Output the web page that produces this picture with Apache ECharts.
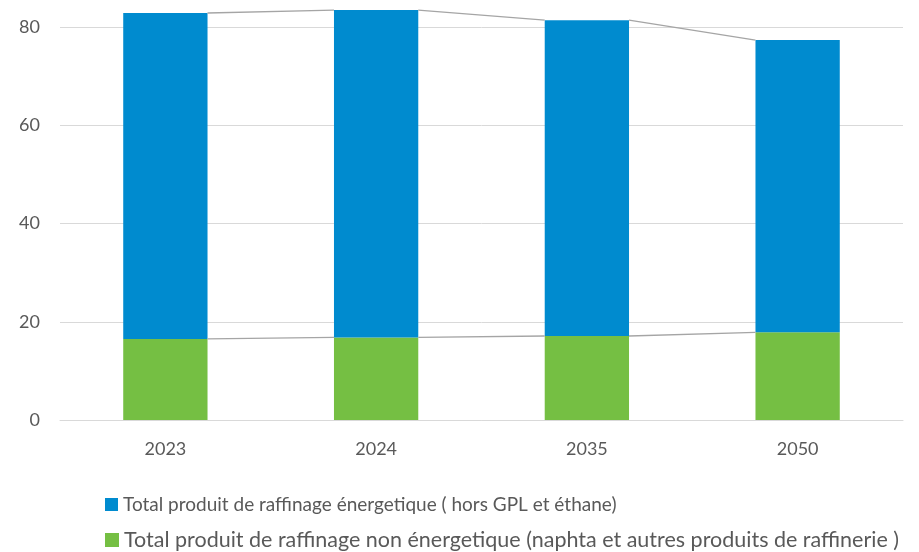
<!DOCTYPE html>
<html>
<head>
<meta charset="utf-8">
<script src="https://cdn.jsdelivr.net/npm/echarts@6/dist/echarts.min.js"></script>
<style>
  html, body { margin: 0; padding: 0; background: #fff; }
  #chart { width: 919px; height: 552px; }
</style>
</head>
<body>
<div id="chart"></div>
<script>
// données
const years = ['2023', '2024', '2035', '2050'];
const nonEnergetique = [16.5, 16.8, 17.1, 17.85];
const energetique = [66.35, 66.65, 64.3, 59.5];
const yTicks = [0, 20, 40, 60, 80];

const nameEnergetique = 'Total produit de raffinage énergetique ( hors GPL et éthane)';
const nameNonEnergetique = 'Total produit de raffinage non énergetique (naphta et autres produits de raffinerie )';

const FONT = 'Lato';
const BAR_RATIO = 0.4;
const Y_MAX = 85.5; // le haut du graphique est coupé

// lignes de série (bord droit d'une barre vers bord gauche de la suivante)
const totals = energetique.map((v, i) => v + nonEnergetique[i]);
const seriesLines = [];
for (let i = 0; i < years.length - 1; i++) {
  seriesLines.push([i, nonEnergetique[i], nonEnergetique[i + 1]]);
  seriesLines.push([i, totals[i], totals[i + 1]]);
}

const legendBase = {
  orient: 'vertical',
  left: 105,
  padding: 0,
  itemWidth: 13,
  itemHeight: 13,
  icon: 'rect'
};

const chart = echarts.init(document.getElementById('chart'));
chart.setOption({
  animation: false,
  textStyle: { fontFamily: FONT },
  grid: { left: 60, right: 16, top: 0, bottom: 132, containLabel: false },
  legend: [
    Object.assign({}, legendBase, {
      top: 495,
      data: [nameEnergetique],
      textStyle: { color: '#595959', fontSize: 19, fontFamily: FONT }
    }),
    Object.assign({}, legendBase, {
      top: 529,
      itemWidth: 14,
      itemHeight: 14,
      data: [nameNonEnergetique],
      textStyle: { color: '#595959', fontSize: 21.5, fontFamily: FONT }
    })
  ],
  xAxis: {
    type: 'category',
    data: years,
    axisLine: { show: true, lineStyle: { color: '#d9d9d9', width: 1 } },
    axisTick: { show: false },
    axisLabel: { color: '#595959', fontSize: 18, margin: 20 }
  },
  yAxis: {
    type: 'value',
    min: 0,
    max: Y_MAX,
    interval: 20,
    axisLine: { show: false },
    axisTick: { show: false },
    splitLine: { showMaxLine: false, lineStyle: { color: '#d9d9d9', width: 1 } },
    axisLabel: {
      color: '#595959', fontSize: 18, margin: 20,
      showMaxLabel: false,
      formatter: v => yTicks.includes(v) ? String(v) : ''
    }
  },
  series: [
    {
      name: nameNonEnergetique,
      type: 'bar',
      stack: 'total',
      barWidth: (BAR_RATIO * 100) + '%',
      itemStyle: { color: '#75bf43' },
      data: nonEnergetique
    },
    {
      name: nameEnergetique,
      type: 'bar',
      stack: 'total',
      barWidth: (BAR_RATIO * 100) + '%',
      itemStyle: { color: '#008bcf' },
      data: energetique
    },
    {
      type: 'custom',
      silent: true,
      z: 5,
      data: seriesLines,
      renderItem: function (params, api) {
        const i = api.value(0);
        const p1 = api.coord([i, api.value(1)]);
        const p2 = api.coord([i + 1, api.value(2)]);
        const half = api.size([1, 0])[0] * BAR_RATIO / 2;
        return {
          type: 'line',
          shape: { x1: p1[0] + half, y1: p1[1], x2: p2[0] - half, y2: p2[1] },
          style: { stroke: '#a5a5a5', lineWidth: 1.3 }
        };
      }
    }
  ]
});
</script>
</body>
</html>
